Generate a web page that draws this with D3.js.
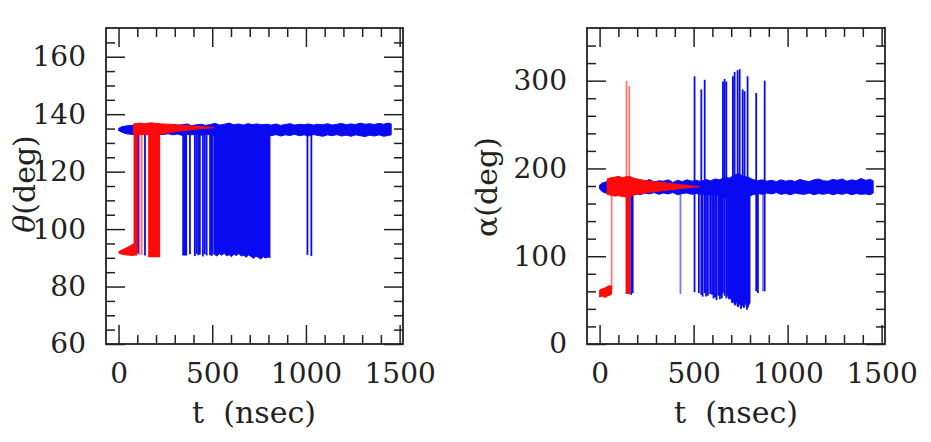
<!DOCTYPE html>
<html><head><meta charset="utf-8">
<script src="https://cdn.jsdelivr.net/npm/d3@7/dist/d3.min.js"></script>
<style>body{margin:0;background:#fff}svg{display:block}</style>
</head><body>
<svg id="chart" width="931" height="442"></svg>
<script>
// ---------------- data ----------------
const xMajorTicks = [0, 500, 1000, 1500];
const xMinorTicks = [100, 200, 300, 400, 600, 700, 800, 900, 1100, 1200, 1300, 1400];
const thetaMajorTicks = [60, 80, 100, 120, 140, 160];
const thetaMinorTicks = [65, 70, 75, 85, 90, 95, 105, 110, 115, 125, 130, 135, 145, 150, 155, 165];
const alphaMajorTicks = [0, 100, 200, 300];
const alphaMinorTicks = [20, 40, 60, 80, 120, 140, 160, 180, 220, 240, 260, 280, 320, 340];

// theta panel — blue run: main band [t, lo, hi]
const thetaBlueBand = [
  [0,134.3,135.0],[15,133.8,135.6],[40,133.2,135.9],[65,133.0,136.1],[90,132.9,136.0],
  [115,133.3,136.3],[140,132.8,136.1],[165,133.1,136.4],[190,132.7,136.0],[215,133.0,136.5],
  [240,132.9,136.2],[265,133.2,135.9],[290,132.8,136.4],[315,133.1,136.1],[340,132.6,136.3],
  [365,133.0,136.6],[390,132.8,136.0],[415,133.2,136.3],[440,132.7,136.5],[465,133.0,136.1],
  [490,132.9,136.4],[515,132.6,136.8],[540,133.1,136.2],[565,132.8,136.5],[590,132.7,136.9],
  [615,133.0,136.3],[640,132.6,136.6],[665,132.9,136.2],[690,132.7,136.7],[715,133.1,136.4],
  [740,132.8,136.6],[765,132.6,136.3],[790,133.0,136.5],[815,132.5,136.2],[840,132.9,136.6],
  [865,132.4,136.1],[890,132.8,136.4],[915,132.6,136.7],[940,133.0,136.2],[965,132.5,136.5],
  [990,132.8,136.3],[1015,132.4,136.6],[1040,132.9,136.2],[1065,132.6,136.5],[1090,132.3,136.3],
  [1115,132.8,136.7],[1140,132.5,136.2],[1165,132.9,136.5],[1190,132.4,136.8],[1215,132.7,136.3],
  [1240,132.3,136.6],[1265,132.8,136.4],[1290,132.5,136.9],[1315,132.2,136.5],[1340,132.7,136.7],
  [1365,132.4,136.4],[1390,132.8,136.8],[1415,132.3,136.5],[1440,132.6,136.9],[1455,132.8,136.6]
];
// blue solid blocks [t0, t1, lo, hi]
const thetaBlueBlocks = [[340, 366, 90.8, 134]];
// blue transitions [t, lo, hi]
const thetaBlueSpikes = [
  [104,91.5,134],[141,90.8,134],[381,91.2,134],[407,90.6,134],[416,91.4,134],[425,90.9,134],
  [434,91.1,134],[450,90.5,134],[460,91.3,134],[470,90.8,134],[488,91.0,134],[496,90.6,134],
  [503,91.2,134],[1008,91.0,134],[1029,90.6,134]
];
// blue dense hopping region: lower edge [t, lo], upper edge at theta 134
const thetaBlueDense = [
  [512,91.2],[525,90.6],[538,91.4],[551,90.9],[564,91.6],[577,90.7],[590,91.1],[603,90.4],
  [616,91.3],[629,90.8],[642,91.5],[655,90.6],[668,90.9],[681,90.2],[694,91.0],[707,90.5],
  [720,89.8],[733,90.6],[746,90.1],[759,89.6],[772,90.4],[785,89.9],[798,90.3],[808,90.0]
];
const thetaDenseTop = 134;
// theta panel — red run
const thetaRedLow = [[2,91.6,92.2],[20,91.2,92.8],[40,91.0,93.4],[60,90.9,94.1],[82,90.8,94.9]];
const thetaRedBlocks = [[80, 100, 90.8, 136.4], [158, 222, 90.2, 136.6]];
const thetaRedFaintSpikes = [[112,91,135],[124,91,135]];
const thetaRedTop = [
  [80,133.1,136.6],[110,132.8,136.9],[140,133.0,136.7],[170,132.7,137.0],[200,132.9,136.8],
  [230,133.1,136.6],[270,133.6,136.5],[310,134.0,136.3],[350,134.3,136.1],[390,134.6,135.9],
  [430,134.9,135.7],[470,135.1,135.5],[510,135.3,135.3]
];

// alpha panel — blue run
const alphaBlueBand = [
  [0,176.5,181.0],[15,173.5,183.5],[40,171.5,185.0],[65,172.5,186.5],[90,171.0,184.5],
  [115,172.0,187.0],[140,170.5,185.5],[165,171.5,186.0],[190,172.5,184.0],[215,170.0,186.5],
  [240,172.0,185.0],[265,171.0,187.5],[290,172.5,184.5],[315,170.5,186.0],[340,172.0,185.5],
  [365,171.0,187.0],[390,172.5,184.0],[415,170.0,186.5],[440,171.5,185.0],[465,172.0,187.0],
  [490,170.5,185.5],[515,171.5,186.5],[540,170.0,185.0],[565,171.0,187.5],[590,169.5,186.0],
  [615,170.5,188.0],[640,168.5,187.0],[665,167.0,190.0],[690,168.0,189.0],[715,165.5,192.0],
  [740,166.0,194.0],[765,167.5,191.0],[790,168.0,190.0],[815,170.0,187.5],[840,171.5,186.0],
  [865,170.5,187.0],[890,172.0,185.5],[915,171.0,186.5],[940,172.5,185.0],[965,170.5,187.0],
  [990,171.5,185.5],[1015,170.0,186.5],[1040,172.0,185.0],[1065,171.0,187.5],[1090,170.5,186.0],
  [1115,172.0,185.0],[1140,170.0,187.0],[1165,171.5,188.0],[1190,170.5,186.0],[1215,172.0,185.5],
  [1240,170.0,187.5],[1265,171.5,186.5],[1290,170.5,188.0],[1315,172.0,185.5],[1340,170.0,187.0],
  [1365,171.5,186.0],[1390,170.5,188.5],[1415,171.0,186.5],[1440,170.0,187.5],[1455,172.0,186.0]
];
const alphaBlueSpikes = [
  [168,56,180],[176,58,180],[505,59,305],[528,58,180],[541,56,290],[548,54,180],[559,58,301],
  [566,54,180],[576,55,180],[588,57,180],[598,56,180],[606,52,180],[614,53,180],[622,50,180],
  [632,55,180],[640,51,180],[645,55,180],[650,52,180],[656,58,299],[665,55,302],[674,52,299],
  [709,47,305],[718,45,310],[734,43,312],[745,48,313],[761,44,290],[771,46,288],[787,42,305],
  [833,60,286],[842,58,180],[878,60,300]
];
const alphaBlueFaintSpikes = [[430,57,178],[869,60,180]];
const alphaBlueDense = [
  [680,56],[688,51],[696,53],[704,47],[712,52],[720,44],[728,49],[736,42],
  [744,47],[752,40],[760,45],[768,41],[776,48],[784,39],[792,44],[800,47]
];
const alphaDenseTop = 182;
// alpha panel — red run
const alphaRedLow = [[0,53.5,61.5],[15,54.5,63.0],[30,53.0,64.0],[45,55.0,66.0],[60,56.0,66.5],[64,57.0,65.0]];
const alphaRedBlocks = [[138, 164, 57, 186]];
const alphaRedFaintSpikes = [[64,62,178],[143,180,300],[158,180,294]];
const alphaRedBand = [
  [40,170.5,188.0],[60,169.5,189.5],[80,168.5,190.0],[100,169.0,191.0],[120,168.0,189.5],
  [140,167.5,190.5],[160,168.5,191.0],[180,169.5,189.0],[210,171.0,187.5],[250,172.5,186.0],
  [290,173.5,185.0],[330,174.5,184.0],[370,175.5,183.0],[410,176.5,182.0],[450,177.5,181.0],
  [490,178.5,180.0],[530,179.0,179.5]
];

// ---------------- drawing ----------------
const BLUE = "#0a0af2", RED = "#ff0a0a", INK = "#222";
const FONT = "'DejaVu Serif', serif";
const svg = d3.select("#chart");

function panel(o) {
  const x = d3.scaleLinear().domain([-67, 1518]).range([o.left, o.right]);
  const y = d3.scaleLinear().domain(o.yDomain).range([344, 28]);
  const g = svg.append("g");
  const clipId = "clip" + o.id;
  svg.append("clipPath").attr("id", clipId).append("rect")
    .attr("x", o.left).attr("y", 28).attr("width", o.right - o.left).attr("height", 316);
  const plot = g.append("g").attr("clip-path", `url(#${clipId})`);

  const band = d3.area().x(d => x(d[0])).y0(d => y(d[1])).y1(d => y(d[2]));
  const dense = top => d3.area().x(d => x(d[0])).y0(d => y(d[1])).y1(() => y(top));

  function drawRun(r, color) {
    if (r.band) plot.append("path").attr("d", band(r.band)).attr("fill", color)
      .attr("stroke", color).attr("stroke-width", 1);
    if (r.dense) plot.append("path").attr("d", dense(r.denseTop)(r.dense)).attr("fill", color)
      .attr("stroke", color).attr("stroke-width", 1);
    if (r.blocks) plot.selectAll(null).data(r.blocks).enter().append("rect")
      .attr("x", d => x(d[0])).attr("width", d => x(d[1]) - x(d[0]))
      .attr("y", d => y(d[3])).attr("height", d => y(d[2]) - y(d[3])).attr("fill", color);
    if (r.faint) plot.selectAll(null).data(r.faint).enter().append("line")
      .attr("x1", d => x(d[0])).attr("x2", d => x(d[0]))
      .attr("y1", d => y(d[1])).attr("y2", d => y(d[2]))
      .attr("stroke", color).attr("stroke-width", 1.8).attr("stroke-opacity", 0.55);
    if (r.spikes) plot.selectAll(null).data(r.spikes).enter().append("line")
      .attr("x1", d => x(d[0])).attr("x2", d => x(d[0]))
      .attr("y1", d => y(d[1])).attr("y2", d => y(d[2]))
      .attr("stroke", color).attr("stroke-width", 1.8);
    if (r.low) plot.append("path").attr("d", band(r.low)).attr("fill", color)
      .attr("stroke", color).attr("stroke-width", 1);
    if (r.top) plot.append("path").attr("d", band(r.top)).attr("fill", color)
      .attr("stroke", color).attr("stroke-width", 1);
  }
  drawRun(o.blue, BLUE);
  drawRun(o.red, RED);

  // ticks on all four sides, pointing inward
  const H = 316, W = o.right - o.left;
  const mk = (axis, tf) => {
    const a = g.append("g").attr("transform", tf).call(axis);
    a.select(".domain").remove();
    a.selectAll("line").attr("stroke", INK).attr("stroke-width", 1.5);
    return a;
  };
  [[xMajorTicks, 19], [o.xMinor, 9]].forEach(([vals, len]) => {
    mk(d3.axisBottom(x).tickValues(vals).tickSize(-len).tickFormat(""), `translate(0,344)`);
    mk(d3.axisTop(x).tickValues(vals).tickSize(-len).tickFormat(""), `translate(0,28)`);
  });
  [[o.yMajor, 19], [o.yMinor, 9]].forEach(([vals, len]) => {
    mk(d3.axisLeft(y).tickValues(vals).tickSize(-len).tickFormat(""), `translate(${o.left},0)`);
    mk(d3.axisRight(y).tickValues(vals).tickSize(-len).tickFormat(""), `translate(${o.right},0)`);
  });
  // frame
  g.append("rect").attr("x", o.left).attr("y", 28).attr("width", W).attr("height", H)
    .attr("fill", "none").attr("stroke", INK).attr("stroke-width", 1.8);

  // tick labels
  const lx = g.append("g").attr("transform", "translate(0,344)")
    .call(d3.axisBottom(x).tickValues(xMajorTicks).tickSize(0).tickPadding(19).tickFormat(d3.format("d")));
  lx.select(".domain").remove();
  const ly = g.append("g").attr("transform", `translate(${o.left},0)`)
    .call(d3.axisLeft(y).tickValues(o.yMajor).tickSize(0).tickPadding(20).tickFormat(d3.format("d")));
  ly.select(".domain").remove();
  g.selectAll(".tick text").attr("font-family", FONT).attr("font-size", 28).attr("fill", INK);

  // axis titles
  g.append("text").attr("x", o.xTitleX).attr("y", 423).attr("text-anchor", "middle")
    .attr("font-family", FONT).attr("font-size", 30).attr("fill", INK)
    .attr("xml:space", "preserve").text("t  (nsec)");
  const yt = g.append("text").attr("transform", `translate(${o.yTitleX},${o.yTitleY}) rotate(-90)`)
    .attr("text-anchor", "middle").attr("font-family", FONT).attr("font-size", 30).attr("fill", INK);
  yt.append("tspan").attr("font-style", o.symItalic ? "italic" : "normal").text(o.sym);
  yt.append("tspan").text("(deg)");
}

panel({
  id: "theta", left: 106, right: 403, yDomain: [60, 170],
  xMinor: xMinorTicks, yMajor: thetaMajorTicks, yMinor: thetaMinorTicks,
  xTitleX: 254, yTitleX: 35, yTitleY: 184, sym: "θ", symItalic: true,
  blue: { band: thetaBlueBand, blocks: thetaBlueBlocks, spikes: thetaBlueSpikes,
          dense: thetaBlueDense, denseTop: thetaDenseTop },
  red: { low: thetaRedLow, blocks: thetaRedBlocks, faint: thetaRedFaintSpikes, top: thetaRedTop }
});
panel({
  id: "alpha", left: 587, right: 885, yDomain: [0, 360],
  xMinor: xMinorTicks, yMajor: alphaMajorTicks, yMinor: alphaMinorTicks,
  xTitleX: 736, yTitleX: 497, yTitleY: 187, sym: "α", symItalic: false,
  blue: { band: alphaBlueBand, spikes: alphaBlueSpikes, faint: alphaBlueFaintSpikes,
          dense: alphaBlueDense, denseTop: alphaDenseTop },
  red: { low: alphaRedLow, blocks: alphaRedBlocks, faint: alphaRedFaintSpikes, top: alphaRedBand }
});
</script>
</body></html>
